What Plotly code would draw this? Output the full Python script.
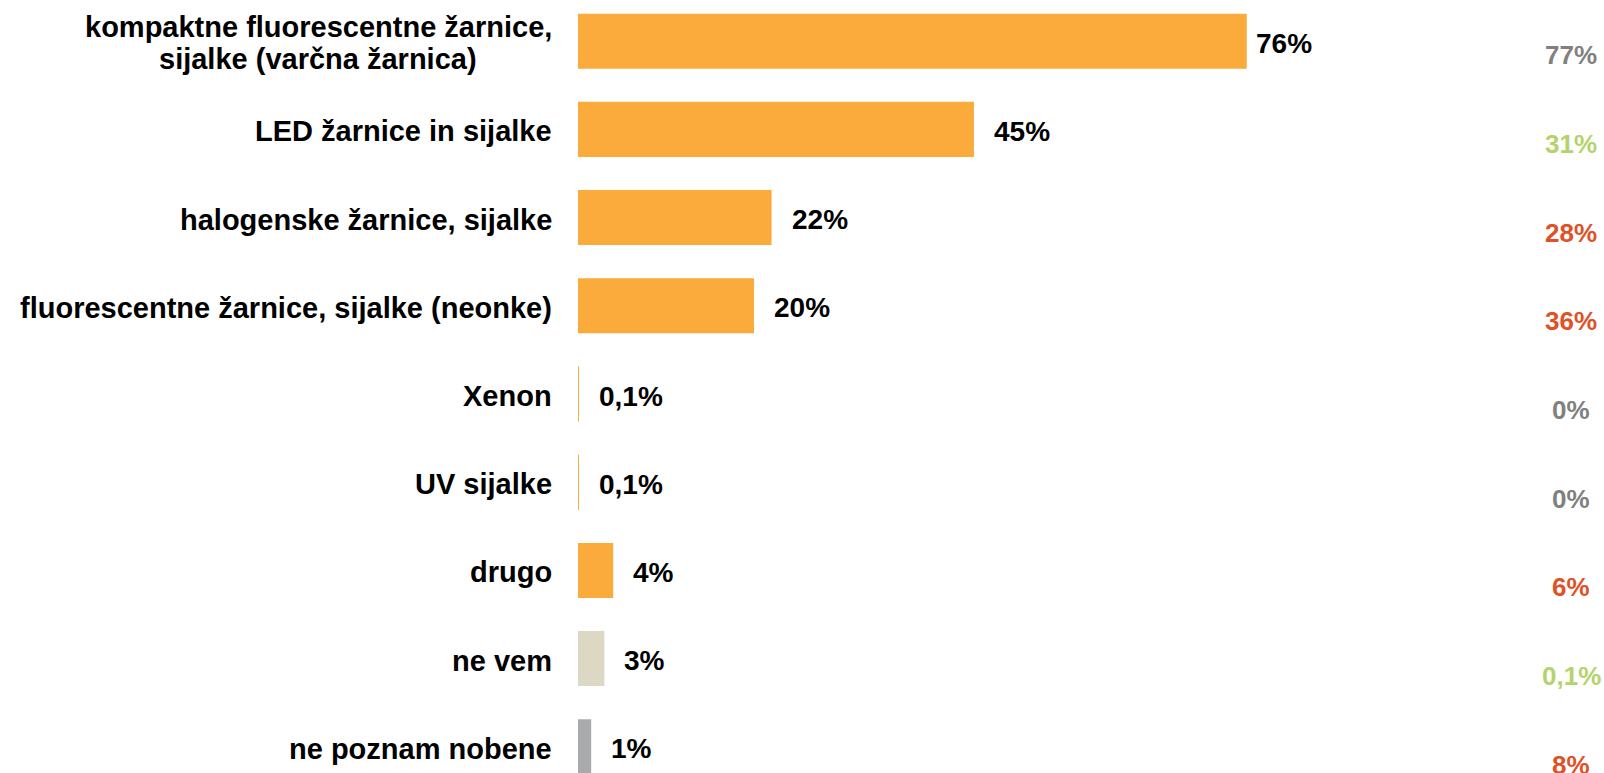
import plotly.graph_objects as go

categories = [
    "kompaktne fluorescentne žarnice,<br>sijalke (varčna žarnica)",
    "LED žarnice in sijalke",
    "halogenske žarnice, sijalke",
    "fluorescentne žarnice, sijalke (neonke)",
    "Xenon",
    "UV sijalke",
    "drugo",
    "ne vem",
    "ne poznam nobene",
]
values = [76, 45, 22, 20, 0.1, 0.1, 4, 3, 1.5]
value_labels = ["76%", "45%", "22%", "20%", "0,1%", "0,1%", "4%", "3%", "1%"]
bar_colors = ["#fbab3b"] * 7 + ["#dcd8c4", "#a9aaac"]
prev_labels = ["77%", "31%", "28%", "36%", "0%", "0%", "6%", "0,1%", "8%"]
prev_colors = ["#808080", "#b5d36c", "#df5126", "#df5126", "#808080",
               "#808080", "#df5126", "#b5d36c", "#df5126"]

FONT = "Liberation Sans, Arial, Helvetica, sans-serif"

fig = go.Figure(go.Bar(
    x=values,
    y=categories,
    orientation="h",
    marker=dict(color=bar_colors, line=dict(width=0)),
    hoverinfo="skip",
))

annotations = []
for i, cat in enumerate(categories):
    lines = cat.split("<br>")
    if len(lines) == 1:
        annotations.append(dict(
            x=0, y=cat, xref="x", yref="y", text=cat, showarrow=False,
            xanchor="right", yanchor="middle", xshift=-24, yshift=-2,
            font=dict(family=FONT, size=29, color="#000000", weight="bold"),
        ))
    else:
        n = len(lines)
        for k, ln in enumerate(lines):
            annotations.append(dict(
                x=0, y=cat, xref="x", yref="y", text=ln, showarrow=False,
                xanchor="center", yanchor="middle", xshift=-260,
                yshift=(n - 1) / 2 * 31.7 - k * 31.7 - 2,
                font=dict(family=FONT, size=29, color="#000000", weight="bold"),
            ))
    annotations.append(dict(
        x=values[i], y=cat, xref="x", yref="y", text=value_labels[i],
        showarrow=False, xanchor="left", yanchor="middle",
        xshift=7 if i == 0 else 18, yshift=-2,
        font=dict(family=FONT, size=28, color="#000000", weight="bold"),
    ))
    annotations.append(dict(
        x=0.968, y=cat, xref="paper", yref="y", text=prev_labels[i],
        showarrow=False, xanchor="center", yanchor="middle",
        yshift=-(14 + 0.5 * i),
        font=dict(family=FONT, size=26, color=prev_colors[i], weight="bold"),
    ))

fig.update_layout(
    width=1604,
    height=773,
    margin=dict(l=578, r=0, t=0, b=0),
    paper_bgcolor="#ffffff",
    plot_bgcolor="#ffffff",
    showlegend=False,
    bargap=0.376,
    annotations=annotations,
    xaxis=dict(range=[0, 116.6], visible=False, fixedrange=True),
    yaxis=dict(type="category", range=[8.297, -0.467], showticklabels=False,
               showgrid=False, zeroline=False, showline=False, ticks="",
               fixedrange=True),
)

fig.write_html(
    "out.html",
    config={"displayModeBar": False},
    post_script="document.body.style.margin='0';document.body.style.overflow='hidden';",
)
